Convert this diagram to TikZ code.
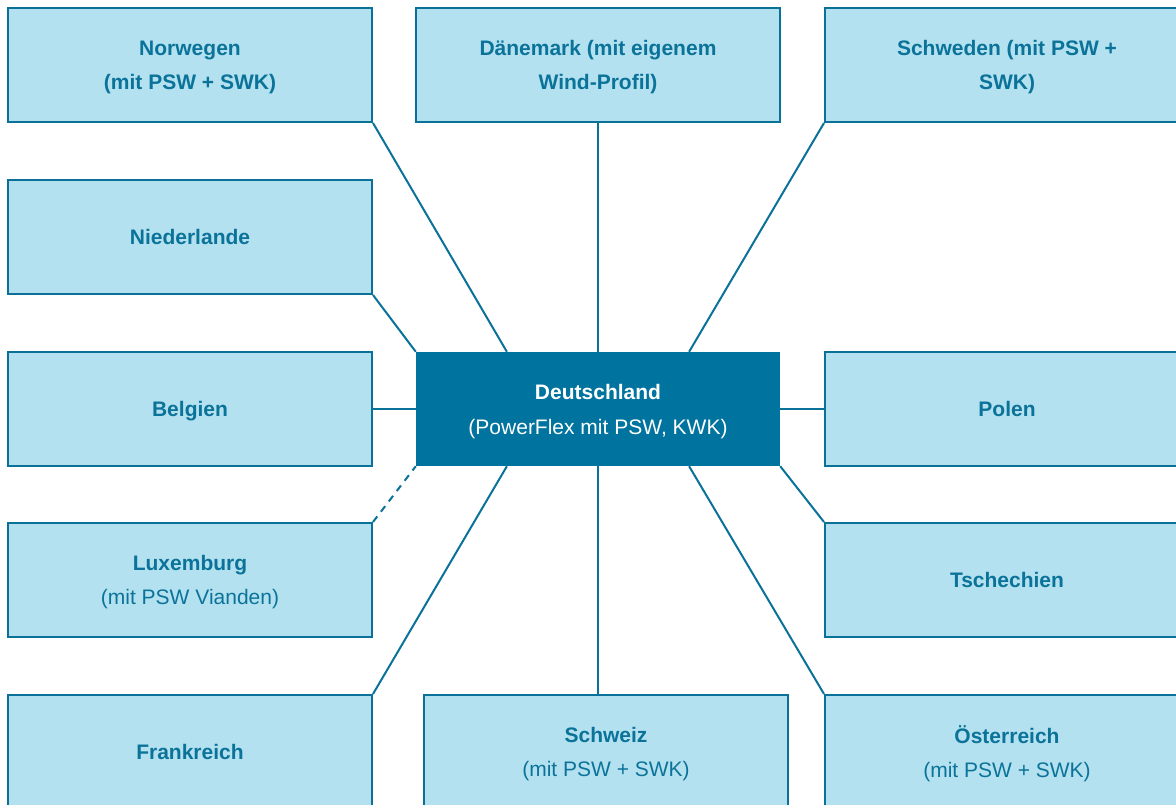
\documentclass[tikz,border=0pt]{standalone}
\usepackage{fontspec}
\setmainfont{Liberation Sans}
\usetikzlibrary{calc}
\definecolor{landfill}{HTML}{B3E1EF}
\definecolor{landline}{HTML}{0A7299}
\definecolor{landtext}{HTML}{0B7399}
\definecolor{defill}{HTML}{00739E}
\tikzset{
	land/.style={draw=landline, fill=landfill, line width=2pt, minimum width=364pt, minimum height=114pt, text depth=0pt, align=center, text=landtext, font=\fontsize{21}{34}\selectfont},
	hub/.style={fill=defill, minimum width=364pt, minimum height=114pt, text depth=0pt, align=center, text=white, font=\fontsize{21}{35}\selectfont},
	link/.style={draw=landline, line width=2pt}
}

\begin{document}
\begin{tikzpicture}[x=1pt, y=-1pt]
			%%%%% START %%%%%
			
			\useasboundingbox (0, 0) rectangle (1176, 805);
			\clip (0, 0) rectangle (1176, 805);
			
			\node[hub] (de) at (598, 409) {\textbf{Deutschland}\\(PowerFlex mit PSW, KWK)};
			
			\node[land] (no) at (190, 65) {\textbf{Norwegen}\\\textbf{(mit PSW + SWK)}};
			\node[land] (nl) at (190, 237) {\textbf{Niederlande}};
			\node[land] (be) at (190, 409) {\textbf{Belgien}};
			\node[land] (lu) at (190, 580) {\textbf{Luxemburg}\\(mit PSW Vianden)};
			\node[land] (fr) at (190, 752) {\textbf{Frankreich}};
			
			\node[land] (dk) at (598, 65) {\textbf{Dänemark (mit eigenem}\\\textbf{Wind-Profil)}};
			\node[land] (ch) at (606, 752) {\textbf{Schweiz}\\(mit PSW + SWK)};
			
			\node[land] (se) at (1007, 65) {\textbf{Schweden (mit PSW +}\\\textbf{SWK)}};
			\node[land] (pl) at (1007, 409) {\textbf{Polen}};
			\node[land] (cz) at (1007, 580) {\textbf{Tschechien}};
			\node[land] (at) at (1007, 752) {\textbf{Österreich}\\(mit PSW + SWK)};
			
			\coordinate (deNa) at ($(de.north west)!0.25!(de.north east)$);
			\coordinate (deNb) at ($(de.north west)!0.75!(de.north east)$);
			\coordinate (deSa) at ($(de.south west)!0.25!(de.south east)$);
			\coordinate (deSb) at ($(de.south west)!0.75!(de.south east)$);
			
			\draw[link] (no.south east) -- (deNa);
			\draw[link] (dk.south) -- (de.north);
			\draw[link] (se.south west) -- (deNb);
			\draw[link] (nl.south east) -- (de.north west);
			\draw[link] (be.east) -- (de.west);
			\draw[link, dash pattern=on 7pt off 6pt] (lu.north east) -- (de.south west);
			\draw[link] (fr.north east) -- (deSa);
			\draw[link] (de.south) -- (de.south |- ch.north);
			\draw[link] (at.north west) -- (deSb);
			\draw[link] (cz.north west) -- (de.south east);
			\draw[link] (pl.west) -- (de.east);
			
			%%%%% END %%%%%
\end{tikzpicture}
\end{document}
